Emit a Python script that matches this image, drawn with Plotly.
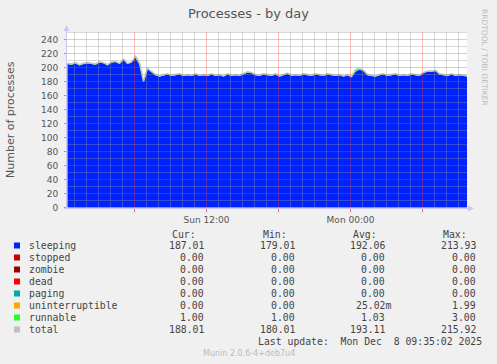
import plotly.graph_objects as go
import pandas as pd

# ---------------- data ----------------
start_time = "2025-12-07 00:25"
step = "20min"
sleeping = [205, 204, 206, 203, 205, 206, 205, 204, 207, 206,
            203, 207, 208, 205, 211, 205, 207, 213.93, 204, 179.01,
            198, 193, 189, 187, 188, 190, 188, 189, 190, 188,
            189, 188, 190, 188, 189, 188, 190, 188, 189, 187,
            190, 188, 189, 188, 190, 193, 192, 189, 188, 190,
            189, 188, 190, 187, 189, 191, 188, 189, 188, 190,
            189, 188, 190, 189, 188, 190, 189, 188, 189, 187,
            189, 186, 194, 197, 195, 189, 188, 187, 189, 190,
            188, 189, 190, 188, 189, 188, 190, 189, 188, 192,
            194, 194, 195, 190, 189, 188, 190, 188, 189, 188,
            187.01]
runnable = [1] * 101
runnable[17] = 2
runnable[72] = 3
uninterruptible = [0] * 101
uninterruptible[18] = 1.99
uninterruptible[73] = 0.54

legend_names = ["sleeping", "stopped", "zombie", "dead", "paging",
                "uninterruptible", "runnable", "total"]
legend_colors = ["#0022ff", "#cc0000", "#990000", "#ff0000", "#00aaaa",
                 "#ffa500", "#22ff22", "#c0c0c0"]
cur_vals = ["187.01", "0.00", "0.00", "0.00", "0.00", "0.00", "1.00", "188.01"]
min_vals = ["179.01", "0.00", "0.00", "0.00", "0.00", "0.00", "1.00", "180.01"]
avg_vals = ["192.06", "0.00", "0.00", "0.00", "0.00", "25.02m", "1.03", "193.11"]
max_vals = ["213.93", "0.00", "0.00", "0.00", "0.00", "1.99", "3.00", "215.92"]

y_major = 20
y_minor = 10
y_range = [-0.714, 250.714]
x_start = "2025-12-07 00:22:30"
x_end = "2025-12-08 09:42:30"
x_ticks = ["2025-12-07 06:00", "2025-12-07 12:00", "2025-12-07 18:00",
           "2025-12-08 00:00", "2025-12-08 06:00"]
x_ticktext = ["", "Sun 12:00", "", "Mon 00:00", ""]

times = pd.date_range(pd.Timestamp(start_time), periods=len(sleeping), freq=step)
total = [s + r + u for s, r, u in zip(sleeping, runnable, uninterruptible)]
zeros = [0] * len(sleeping)

# ---------------- geometry helpers ----------------
W, H = 497, 364
L, R, T, B = 67, 30, 32, 156
PW, PH = W - L - R, H - T - B


def px(x):
    return (x - L) / PW


def py(y):
    return (T + PH - y) / PH


fig = go.Figure()

stack_series = [
    ("sleeping", sleeping, "#0022ff"),
    ("stopped", zeros, "#cc0000"),
    ("zombie", zeros, "#990000"),
    ("dead", zeros, "#ff0000"),
    ("paging", zeros, "#00aaaa"),
    ("uninterruptible", uninterruptible, "#ffa500"),
    ("runnable", runnable, "#22ff22"),
]
for name, vals, col in stack_series:
    fig.add_trace(go.Scatter(x=times, y=vals, name=name, stackgroup="one",
                             mode="lines", line=dict(width=0, color=col),
                             fillcolor=col, showlegend=False, hoverinfo="skip"))
fig.add_trace(go.Scatter(x=times, y=total, name="total", mode="lines",
                         line=dict(width=1.5, color="#b8c8b8"),
                         showlegend=False, hoverinfo="skip"))

# ---------------- grid drawn on top of the data (as rrdtool does) ----------------
MAJ = "rgba(255,60,60,0.34)"
MIN = "rgba(150,150,150,0.36)"
t0, t1 = pd.Timestamp(x_start), pd.Timestamp(x_end)
shapes = []
v = y_minor
while v < y_range[1]:
    major = (v % y_major == 0)
    shapes.append(dict(type="line", xref="x", yref="y",
                       x0=x_start, x1=x_end, y0=v, y1=v, layer="above",
                       line=dict(width=1, color=MAJ if major else MIN)))
    v += y_minor
for h in pd.date_range(t0.ceil("h"), t1, freq="1h"):
    major = (h.hour % 6 == 0)
    hs = h.strftime("%Y-%m-%d %H:%M:%S")
    shapes.append(dict(type="line", xref="x", yref="y",
                       x0=hs, x1=hs, y0=y_range[0], y1=y_range[1], layer="above",
                       line=dict(width=1, color=MAJ if major else MIN)))

# axis lines with arrows
axcol = "#c8c8f0"
shapes.append(dict(type="line", xref="paper", yref="paper", x0=px(66.5), x1=px(66.5),
                   y0=py(208.5), y1=py(27), line=dict(color=axcol, width=1), layer="above"))
shapes.append(dict(type="line", xref="paper", yref="paper", x0=px(64), x1=px(470),
                   y0=py(208.5), y1=py(208.5), line=dict(color=axcol, width=1), layer="above"))
shapes.append(dict(type="path", xref="paper", yref="paper",
                   path=f"M {px(63.5)} {py(31)} L {px(69.5)} {py(31)} L {px(66.5)} {py(25)} Z",
                   fillcolor=axcol, line=dict(width=0), layer="above"))
shapes.append(dict(type="path", xref="paper", yref="paper",
                   path=f"M {px(468)} {py(205.5)} L {px(468)} {py(211.5)} L {px(474)} {py(208.5)} Z",
                   fillcolor=axcol, line=dict(width=0), layer="above"))

annotations = []
txtcol = "#555555"
annotations.append(dict(text="Processes - by day", xref="paper", yref="paper",
                        x=px(248), y=py(13), showarrow=False, xanchor="center", yanchor="middle",
                        font=dict(family="DejaVu Sans", size=13, color=txtcol)))
annotations.append(dict(text="Number of processes", xref="paper", yref="paper",
                        x=px(10), y=py(120), showarrow=False, textangle=-90,
                        xanchor="center", yanchor="middle",
                        font=dict(family="DejaVu Sans", size=11, color=txtcol)))
annotations.append(dict(text="RRDTOOL / TOBI OETIKER", xref="paper", yref="paper",
                        x=px(485), y=py(57), showarrow=False, textangle=90,
                        xanchor="center", yanchor="middle",
                        font=dict(family="DejaVu Sans", size=7.5, color="#bbbbbb")))

mono = dict(family="DejaVu Sans Mono", size=9.8, color="#444444")
headers = [("Cur:", 198), ("Min:", 289), ("Avg:", 379), ("Max:", 469)]
for htxt, xr in headers:
    annotations.append(dict(text=htxt, xref="paper", yref="paper", x=px(xr), y=py(234),
                            showarrow=False, xanchor="right", yanchor="middle", font=mono))

col_right = [206, 297, 387, 478]
for i, name in enumerate(legend_names):
    yrow = 245.5 + 12 * i
    shapes.append(dict(type="rect", xref="paper", yref="paper",
                       x0=px(14), x1=px(20), y0=py(yrow - 3), y1=py(yrow + 3),
                       fillcolor=legend_colors[i], line=dict(width=0)))
    annotations.append(dict(text=name, xref="paper", yref="paper", x=px(26.5), y=py(yrow),
                            showarrow=False, xanchor="left", yanchor="middle", font=mono))
    for vals, xr in zip([cur_vals, min_vals, avg_vals, max_vals], col_right):
        s = vals[i]
        xx = xr + (6 if s.endswith("m") else 0)
        annotations.append(dict(text=s, xref="paper", yref="paper", x=px(xx), y=py(yrow),
                                showarrow=False, xanchor="right", yanchor="middle", font=mono))

nb = "\u00a0"
annotations.append(dict(text=f"Last{nb}update:{nb}{nb}Mon{nb}Dec{nb}{nb}8{nb}09:35:02{nb}2025",
                        xref="paper", yref="paper", x=px(484), y=py(341),
                        showarrow=False, xanchor="right", yanchor="middle", font=mono))
annotations.append(dict(text="Munin 2.0.6-4+deb7u4", xref="paper", yref="paper",
                        x=px(249), y=py(353), showarrow=False, xanchor="center", yanchor="middle",
                        font=dict(family="DejaVu Sans", size=8, color="#bbbbbb")))

fig.update_layout(
    width=W, height=H, autosize=False,
    margin=dict(l=L, r=R, t=T, b=B, pad=0),
    paper_bgcolor="#f0f0f0", plot_bgcolor="#ffffff",
    shapes=shapes, annotations=annotations,
    xaxis=dict(type="date", range=[x_start, x_end], showgrid=False, zeroline=False,
               showline=False, tickvals=x_ticks, ticktext=x_ticktext,
               ticks="outside", ticklen=3, tickcolor="rgba(255,0,0,0.6)",
               tickfont=dict(family="DejaVu Sans", size=9, color=txtcol),
               fixedrange=True),
    yaxis=dict(range=y_range, showgrid=False, zeroline=False, showline=False,
               tickmode="linear", tick0=0, dtick=y_major,
               ticks="outside", ticklen=2, tickcolor="rgba(255,0,0,0.5)",
               ticklabelstandoff=4,
               tickfont=dict(family="DejaVu Sans", size=9, color=txtcol),
               fixedrange=True),
    showlegend=False,
)

fig.write_html("out.html")
